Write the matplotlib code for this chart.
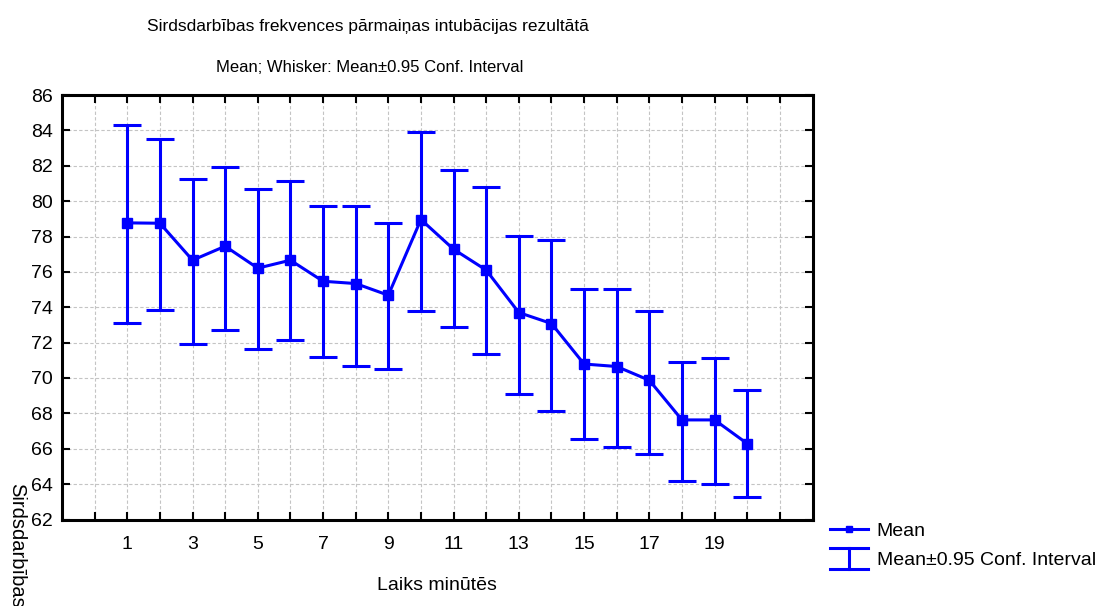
import matplotlib
matplotlib.use("Agg")
import matplotlib.pyplot as plt
from matplotlib.lines import Line2D
from matplotlib.legend_handler import HandlerBase
import numpy as np

plt.rcParams['font.family'] = ['Liberation Sans', 'DejaVu Sans']

# Minutes after intubation and heart-rate statistics
minutes = list(range(1, 21))
mean_hr = [78.77, 78.75, 76.66, 77.45, 76.21, 76.66, 75.47, 75.34, 74.68, 78.96,
           77.28, 76.10, 73.70, 73.08, 70.79, 70.65, 69.87, 67.63, 67.63, 66.29]
ci_upper = [84.30, 83.53, 81.23, 81.94, 80.68, 81.12, 79.74, 79.74, 78.74, 83.92,
            81.77, 80.78, 78.02, 77.79, 75.06, 75.06, 73.81, 70.91, 71.13, 69.30]
ci_lower = [73.13, 73.85, 71.95, 72.72, 71.64, 72.13, 71.17, 70.70, 70.49, 73.76,
            72.87, 71.34, 69.10, 68.13, 66.53, 66.10, 65.72, 64.15, 63.99, 63.25]
x_tick_labels = ['1', '3', '5', '7', '9', '11', '13', '15', '17', '19']

title_main = "Sirdsdarbības frekvences pārmaiņas intubācijas rezultātā"
title_sub = "Mean; Whisker: Mean±0.95 Conf. Interval"
x_label = "Laiks minūtēs"
y_label = "Sirdsdarbības"

BLUE = '#0000ff'

fig = plt.figure(figsize=(10.99, 6.06), dpi=100)
ax = fig.add_axes([62 / 1099, 1 - 519.5 / 606, (812.5 - 62) / 1099, (519.5 - 95) / 606])

x = np.array(minutes, dtype=float)
m = np.array(mean_hr)
yerr = np.vstack([m - np.array(ci_lower), np.array(ci_upper) - m])

ax.errorbar(x, m, yerr=yerr, fmt='none', ecolor=BLUE, elinewidth=2.2,
            capsize=10, capthick=2.2, zorder=3)
ax.plot(x, m, color=BLUE, lw=2.2, marker='s', markersize=7.5,
        markerfacecolor=BLUE, markeredgecolor=BLUE, zorder=4)

ax.set_xlim(-1, 22)
ax.set_ylim(62, 86)
ax.set_xticks(np.arange(0, 22))
ax.set_xticklabels(['' if str(v) not in x_tick_labels else str(v) for v in range(0, 22)])
ax.set_yticks(np.arange(62, 87, 2))

ax.grid(True, color='#c4c4c4', linestyle=(0, (3, 2)), linewidth=0.8, zorder=0)
ax.tick_params(direction='in', length=6, width=1.5, top=True, right=True,
               labelsize=14, pad=6.5)
ax.tick_params(axis='x', pad=12)
for sp in ax.spines.values():
    sp.set_linewidth(2.2)
    sp.set_color('black')

fig.text(368 / 1099, 1 - 26 / 606, title_main, ha='center', va='center', fontsize=12.5)
fig.text(370 / 1099, 1 - 68 / 606, title_sub, ha='center', va='center', fontsize=12)
fig.text(437 / 1099, 1 - 585 / 606, x_label, ha='center', va='center', fontsize=14)
fig.text(17 / 1099, 1 - 483 / 606, y_label, ha='center', va='top', rotation=-90,
         fontsize=14.5)


class WhiskerHandler(HandlerBase):
    def create_artists(self, legend, orig_handle, xdescent, ydescent, width, height,
                       fontsize, trans):
        cx = width / 2 - xdescent
        top = height * 1.25
        bot = -height * 0.3
        lines = [
            Line2D([-xdescent, width - xdescent], [top, top]),
            Line2D([-xdescent, width - xdescent], [bot, bot]),
            Line2D([cx, cx], [bot, top]),
        ]
        for ln in lines:
            ln.set_color(BLUE)
            ln.set_linewidth(2.2)
            ln.set_transform(trans)
        return lines


mean_handle = Line2D([], [], color=BLUE, lw=2.2, marker='s', markersize=5)
whisker_handle = Line2D([], [], color=BLUE)
fig.legend([mean_handle, whisker_handle], ['Mean', 'Mean±0.95 Conf. Interval'],
           handler_map={whisker_handle: WhiskerHandler()},
           loc='upper left', bbox_to_anchor=(830 / 1099, 1 - 522 / 606),
           frameon=False, fontsize=14, handlelength=1.95, handletextpad=0.45,
           labelspacing=0.6, borderpad=0, borderaxespad=0)

fig.savefig('out.png', dpi=100)
